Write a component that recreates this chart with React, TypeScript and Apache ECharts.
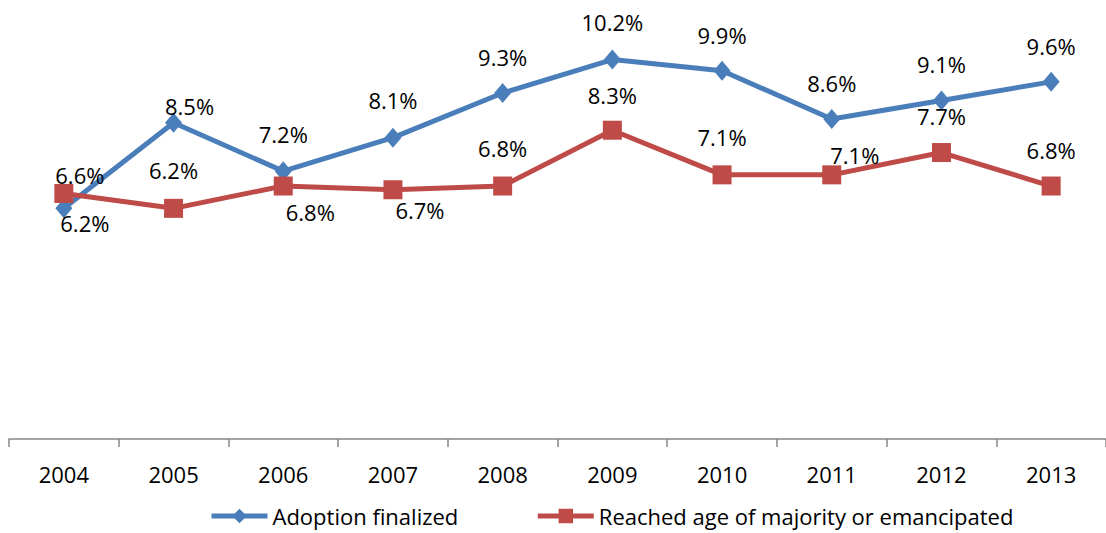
import React, { useEffect, useRef } from "react";
import * as echarts from "echarts";

const years = ["2004", "2005", "2006", "2007", "2008", "2009", "2010", "2011", "2012", "2013"];
const adoptionFinalized = [6.2, 8.5, 7.2, 8.1, 9.3, 10.2, 9.9, 8.6, 9.1, 9.6];
const reachedMajority = [6.6, 6.2, 6.8, 6.7, 6.8, 8.3, 7.1, 7.1, 7.7, 6.8];

// label offsets (dx, dy) of label centre relative to each point
const blueLabelOffsets = [[21, 15], [16, -17], [0, -37], [0, -38], [0, -36], [0, -38], [0, -36], [0, -36], [0, -36], [0, -36]];
const redLabelOffsets = [[16, -18], [0, -38], [27, 26], [27, 20], [0, -38], [0, -35], [0, -38], [23, -20], [0, -37], [0, -36]];

const FONT = "Open Sans";
const BLUE = "#4A7EBB";
const RED = "#BE4B48";

function buildData(values: number[], offsets: number[][]) {
  return values.map((v, i) => ({
    value: v,
    label: {
      show: true,
      position: "inside",
      offset: offsets[i],
      formatter: (p: any) => p.value.toFixed(1) + "%",
      color: "#000",
      fontFamily: FONT,
      fontSize: 22,
      align: "center",
      verticalAlign: "middle",
    },
  }));
}

export default function App() {
  const ref = useRef<HTMLDivElement>(null);
  useEffect(() => {
    if (!ref.current) return;
    const chart = echarts.init(ref.current, null, { renderer: "svg" });
    chart.setOption({
      animation: false,
      backgroundColor: "#fff",
      grid: { left: 9, top: 0, width: 1100, height: 439, containLabel: false },
      xAxis: {
        type: "category",
        data: years,
        boundaryGap: true,
        axisLine: { lineStyle: { color: "#868686", width: 1.5 } },
        axisTick: { show: true, length: 8, alignWithLabel: false, lineStyle: { color: "#868686", width: 1.5 } },
        axisLabel: { color: "#000", fontFamily: FONT, fontSize: 22, margin: 24, interval: 0 },
        splitLine: { show: false },
      },
      yAxis: { type: "value", min: 0, max: 11.8, show: false, splitLine: { show: false } },
      legend: {
        left: 209,
        top: 505,
        padding: 0,
        itemWidth: 56,
        itemHeight: 18,
        itemGap: 77,
        lineStyle: { width: 5 },
        textStyle: { color: "#000", fontFamily: FONT, fontSize: 22, lineHeight: 22 },
        data: ["Adoption finalized", "Reached age of majority or emancipated"],
      },
      series: [
        {
          name: "Adoption finalized",
          type: "line",
          data: buildData(adoptionFinalized, blueLabelOffsets),
          symbol: "diamond",
          symbolSize: [17, 20],
          lineStyle: { color: BLUE, width: 5 },
          itemStyle: { color: BLUE },
          clip: false,
          z: 2,
        },
        {
          name: "Reached age of majority or emancipated",
          type: "line",
          data: buildData(reachedMajority, redLabelOffsets),
          symbol: "rect",
          symbolSize: 19,
          lineStyle: { color: RED, width: 5 },
          itemStyle: { color: RED },
          clip: false,
          z: 3,
        },
      ],
    });
    return () => chart.dispose();
  }, []);
  return (
    <div
      ref={ref}
      style={{ position: "fixed", left: 0, top: 0, width: 1106, height: 533, background: "#fff" }}
    />
  );
}
